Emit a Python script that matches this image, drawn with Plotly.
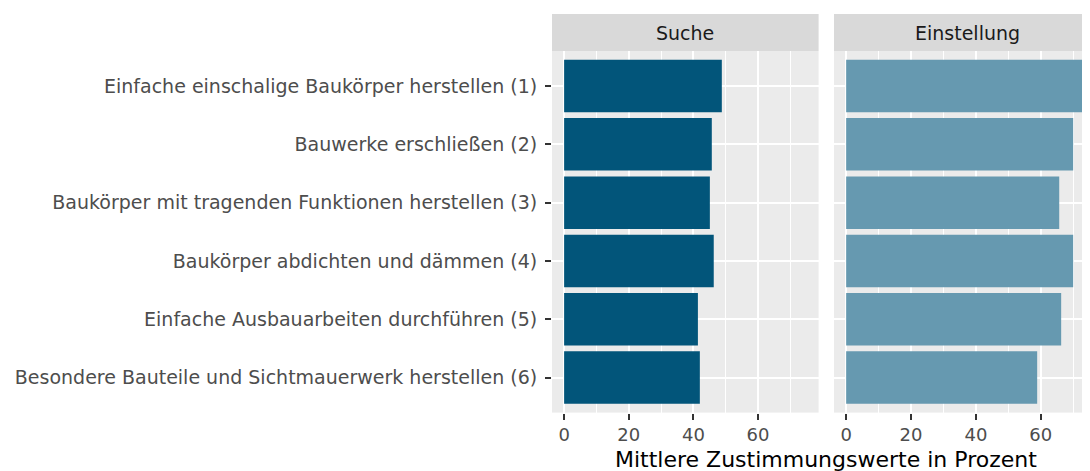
import plotly.graph_objects as go

categories = [
    "Einfache einschalige Baukörper herstellen (1)",
    "Bauwerke erschließen (2)",
    "Baukörper mit tragenden Funktionen herstellen (3)",
    "Baukörper abdichten und dämmen (4)",
    "Einfache Ausbauarbeiten durchführen (5)",
    "Besondere Bauteile und Sichtmauerwerk herstellen (6)",
]
suche = [48.8, 45.7, 45.1, 46.3, 41.4, 42.0]
einstellung = [75.0, 70.0, 65.7, 70.0, 66.3, 58.9]
panels = ["Suche", "Einstellung"]
major_ticks = [0, 20, 40, 60]
minor_ticks = [10, 30, 50, 70]
x_title = "Mittlere Zustimmungswerte in Prozent"

OFF = 8  # default page margin around the figure
W, H = 1090 - OFF, 471 - OFF
FONT = "DejaVu Sans"

def px_x(v):
    return (v - OFF) / W

def px_y(v):
    return (H - (v - OFF)) / H

fig = go.Figure()
fig.add_trace(go.Bar(y=categories, x=suche, orientation="h", width=0.9,
                     marker=dict(color="#02557A", line=dict(width=0)),
                     xaxis="x", yaxis="y", showlegend=False))
fig.add_trace(go.Bar(y=categories, x=einstellung, orientation="h", width=0.9,
                     marker=dict(color="#6699B0", line=dict(width=0)),
                     xaxis="x2", yaxis="y2", showlegend=False))

panel_top = 51
panel_bot = 412.6
ydom = [px_y(panel_bot), px_y(panel_top)]

xcommon = dict(
    tickvals=major_ticks, ticktext=[str(t) for t in major_ticks],
    showgrid=True, gridcolor="white", gridwidth=2,
    minor=dict(tickvals=minor_ticks, showgrid=True, gridcolor="white", gridwidth=1, ticks=""),
    zeroline=False, showline=False,
    ticks="outside", ticklen=6, tickwidth=2, tickcolor="#333333",
    tickfont=dict(family=FONT, size=18, color="#4D4D4D"),
    automargin=False, fixedrange=True,
)
ycommon = dict(
    type="category", categoryorder="array", categoryarray=categories,
    range=[5.6, -0.6], domain=ydom,
    showgrid=True, gridcolor="white", gridwidth=2,
    zeroline=False, showline=False, automargin=False,
)

fig.update_layout(
    width=W, height=H,
    margin=dict(l=0, r=0, t=0, b=0),
    paper_bgcolor="white", plot_bgcolor="#EBEBEB",
    bargap=0.1,
    xaxis=dict(domain=[px_x(552), px_x(818.6)], range=[-3.75, 78.75], anchor="y", **xcommon),
    xaxis2=dict(domain=[px_x(834), 1.0], range=[-3.75, -3.75 + (1090 - 834) / 3.243], anchor="y2", **xcommon),
    yaxis=dict(anchor="x", ticks="outside", ticklen=6, tickwidth=2, tickcolor="#333333",
               ticklabelstandoff=4,
               tickfont=dict(family=FONT, size=19, color="#4D4D4D"), **ycommon),
    yaxis2=dict(anchor="x2", matches="y", showticklabels=False, ticks="", **ycommon),
)

strip_top, strip_bot = 14, 51
for xref, cx, label in [("x domain", 685.3, panels[0]), ("x2 domain", 967.3, panels[1])]:
    fig.add_shape(type="rect", xref=xref, yref="paper", x0=0, x1=1,
                  y0=px_y(strip_bot), y1=px_y(strip_top),
                  fillcolor="#D9D9D9", line=dict(width=0), layer="below")
    fig.add_annotation(text=label, xref="paper", yref="paper", x=px_x(cx),
                       y=px_y((strip_top + strip_bot) / 2), xanchor="center", yanchor="middle",
                       showarrow=False, font=dict(family=FONT, size=19, color="#1A1A1A"))

fig.add_annotation(text=x_title, xref="paper", yref="paper", x=px_x(826), y=px_y(459),
                   xanchor="center", yanchor="middle", showarrow=False,
                   font=dict(family=FONT, size=22, color="black"))

fig.write_html("out.html",
               post_script="document.documentElement.style.overflow='hidden';document.body.style.overflow='hidden';")
